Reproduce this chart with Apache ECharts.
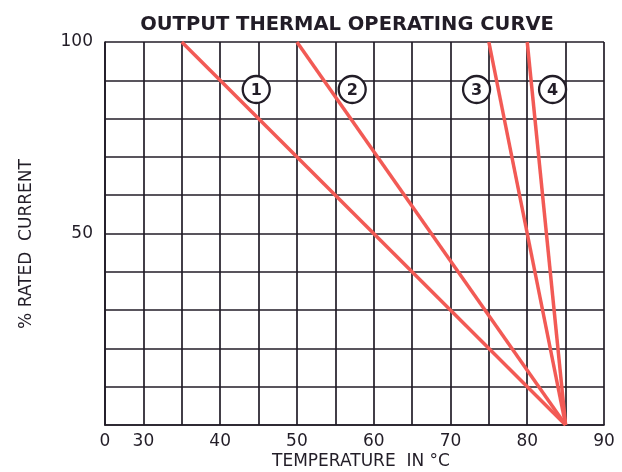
<!DOCTYPE html>
<html>
<head>
<meta charset="utf-8">
<script src="https://cdn.jsdelivr.net/npm/echarts@6/dist/echarts.min.js"></script>
<style>html,body{margin:0;padding:0;background:#fff}#c{width:622px;height:472px}</style>
</head>
<body>
<div id="c"></div>
<script>
// Data
const curve1 = [[35, 100], [85, 0]];
const curve2 = [[50, 100], [85, 0]];
const curve3 = [[75, 100], [85, 0]];
const curve4 = [[80, 100], [85, 0]];
const curveLabels = ['1', '2', '3', '4'];
const labelX = [44.7, 57.2, 73.4, 83.3];
const labelY = [87.6, 87.6, 87.6, 87.6];
const xMin = 25, xMax = 90;   // broken axis: first tick labelled "0"
const yLabels = [50, 100];

const RED = '#f25a55';
const INK = '#221d27';
const FONT = '"DejaVu Sans", sans-serif';

const chart = echarts.init(document.getElementById('c'));
const lineSeries = [curve1, curve2, curve3, curve4].map(d => ({
  type: 'line', data: d, symbol: 'none', silent: true,
  lineStyle: { color: RED, width: 3.5 }, z: 3
}));
chart.setOption({
  animation: false,
  title: {
    text: 'OUTPUT THERMAL OPERATING CURVE', left: 342, textAlign: 'center', top: 10,
    textStyle: { fontFamily: FONT, fontWeight: 'bold', fontSize: 19.5, color: INK }
  },
  grid: { left: 105, right: 18, top: 42, bottom: 47 },
  graphic: [
    { type: 'text', x: 361, y: 462, style: { text: 'TEMPERATURE  IN °C', fontFamily: FONT, fontSize: 17, fill: INK, align: 'center', verticalAlign: 'middle' } },
    { type: 'text', x: 27, y: 244, rotation: Math.PI / 2, style: { text: '% RATED  CURRENT', fontFamily: FONT, fontSize: 17, fill: INK, align: 'center', verticalAlign: 'middle' } }
  ],
  xAxis: {
    type: 'value', min: xMin, max: xMax, interval: 5,
    axisLine: { show: true, lineStyle: { color: INK, width: 1.7 } },
    axisTick: { show: false },
    axisLabel: {
      fontFamily: FONT, fontSize: 17, color: INK, margin: 8,
      formatter: v => v === xMin ? '0' : (v % 10 === 0 ? String(v) : '')
    },
    splitLine: { show: true, lineStyle: { color: INK, width: 1.7 } }
  },
  yAxis: {
    type: 'value', min: 0, max: 100, interval: 10,
    axisLine: { show: true, lineStyle: { color: INK, width: 1.7 } },
    axisTick: { show: false },
    axisLabel: {
      fontFamily: FONT, fontSize: 17, color: INK, margin: 12,
      formatter: v => yLabels.indexOf(v) >= 0 ? String(v) : ''
    },
    splitLine: { show: true, lineStyle: { color: INK, width: 1.7 } }
  },
  series: lineSeries.concat([{
    type: 'scatter', silent: true, z: 5,
    data: curveLabels.map((t, i) => ({ value: [labelX[i], labelY[i]], name: t })),
    symbol: 'circle', symbolSize: 27,
    itemStyle: { color: '#fff', borderColor: INK, borderWidth: 2.3, opacity: 1 },
    label: {
      show: true, position: 'inside', offset: [0, 1], formatter: p => p.name,
      fontFamily: FONT, fontWeight: 'bold', fontSize: 16, color: INK
    }
  }])
});
</script>
</body>
</html>
